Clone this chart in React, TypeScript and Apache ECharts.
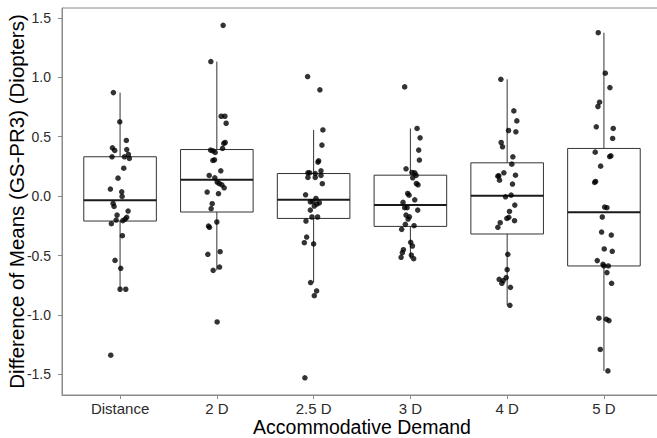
import React, { useEffect, useRef } from "react";
import * as echarts from "echarts";

const categories = ["Distance", "2 D", "2.5 D", "3 D", "4 D", "5 D"];
const yTicks = [-1.5, -1.0, -0.5, 0.0, 0.5, 1.0, 1.5];

// box statistics
const boxLow = [-0.784, -0.625, -0.728, -0.527, -0.919, -1.471];
const boxQ1 = [-0.21, -0.134, -0.188, -0.255, -0.319, -0.588];
const boxMedian = [-0.034, 0.137, -0.031, -0.076, 0.003, -0.137];
const boxQ3 = [0.331, 0.392, 0.19, 0.176, 0.28, 0.401];
const boxHigh = [0.871, 1.132, 0.557, 0.569, 0.983, 1.375];

// jittered points: [horizontal jitter (category units), value]
const distancePts = [
  [-0.069, 0.871], [-0.003, 0.625], [0.065, 0.468], [-0.079, 0.406], [-0.055, 0.384],
  [0.069, 0.392], [-0.083, 0.331], [0.045, 0.331], [0.086, 0.35], [0.096, 0.317],
  [0.038, 0.235], [-0.021, 0.151], [-0.1, 0.059], [0.017, 0.036], [0.021, -0.003],
  [-0.072, -0.062], [-0.062, -0.087], [-0.031, -0.16], [0.083, -0.126], [0.069, -0.179],
  [0.052, -0.193], [0.028, -0.207], [-0.09, -0.232], [-0.041, -0.202], [0.024, -0.333],
  [-0.052, -0.541], [0.007, -0.608], [0.0, -0.784], [0.059, -0.784], [-0.096, -1.339],
];
const d2Pts = [
  [0.065, 1.437], [-0.062, 1.132], [0.045, 0.672], [0.083, 0.672], [0.096, 0.613],
  [0.086, 0.451], [0.072, 0.443], [0.059, 0.401], [-0.065, 0.387], [-0.041, 0.381],
  [-0.017, 0.367], [-0.024, 0.305], [-0.041, 0.3], [0.041, 0.213], [-0.079, 0.174],
  [-0.021, 0.154], [0.003, 0.118], [0.024, 0.106], [0.052, 0.095], [0.076, 0.07],
  [-0.1, 0.034], [0.017, 0.02], [-0.048, -0.064], [-0.059, -0.106], [0.0, -0.218],
  [-0.086, -0.252], [-0.076, -0.263], [0.034, -0.468], [-0.093, -0.49], [0.028, -0.597],
  [-0.038, -0.625], [0.003, -1.059],
];
const d25Pts = [
  [-0.062, 1.006], [0.065, 0.894], [0.096, 0.557], [0.086, 0.429], [0.052, 0.297],
  [0.045, 0.286], [0.076, 0.213], [-0.059, 0.196], [-0.041, 0.196], [0.017, 0.19],
  [-0.059, 0.157], [0.017, 0.157], [0.076, 0.174], [0.09, 0.104], [-0.083, 0.011],
  [0.024, -0.02], [-0.034, -0.048], [-0.007, -0.048], [0.059, -0.056], [0.034, -0.067],
  [0.007, -0.084], [-0.034, -0.118], [-0.017, -0.176], [0.041, -0.176], [-0.079, -0.21],
  [-0.072, -0.345], [-0.096, -0.392], [0.0, -0.403], [-0.031, -0.728], [0.031, -0.798],
  [0.007, -0.838], [-0.09, -1.529],
];
const d3Pts = [
  [-0.059, 0.919], [0.069, 0.569], [0.1, 0.49], [0.086, 0.387], [0.093, 0.303],
  [-0.045, 0.23], [0.017, 0.199], [0.045, 0.196], [0.059, 0.174], [0.024, 0.154],
  [0.062, 0.106], [0.079, 0.095], [-0.028, 0.022], [-0.014, 0.008], [0.045, -0.031],
  [-0.076, -0.053], [-0.059, -0.098], [-0.034, -0.098], [0.076, -0.118], [-0.045, -0.16],
  [-0.01, -0.174], [-0.024, -0.193], [-0.052, -0.238], [0.038, -0.249], [-0.09, -0.28],
  [0.003, -0.389], [0.021, -0.42], [-0.072, -0.451], [-0.083, -0.476], [-0.096, -0.515],
  [0.01, -0.496], [0.034, -0.527],
];
const d4Pts = [
  [-0.065, 0.983], [0.069, 0.717], [0.1, 0.633], [0.014, 0.552], [0.09, 0.541],
  [-0.062, 0.451], [-0.048, 0.415], [0.059, 0.331], [0.048, 0.269], [-0.034, 0.196],
  [-0.086, 0.171], [-0.096, 0.168], [-0.079, 0.134], [0.086, 0.176], [0.055, 0.101],
  [0.041, 0.008], [-0.017, -0.006], [0.079, -0.076], [0.024, -0.129], [0.017, -0.179],
  [-0.003, -0.188], [0.076, -0.207], [-0.072, -0.224], [-0.096, -0.263], [0.007, -0.49],
  [0.0, -0.619], [-0.01, -0.686], [-0.083, -0.7], [-0.041, -0.711], [-0.055, -0.734],
  [0.034, -0.768], [0.028, -0.919],
];
const d5Pts = [
  [-0.059, 1.375], [0.014, 1.034], [0.062, 0.913], [-0.045, 0.79], [-0.062, 0.754],
  [-0.079, 0.583], [0.096, 0.569], [0.09, 0.485], [-0.09, 0.37], [0.059, 0.333],
  [0.072, 0.339], [-0.034, 0.252], [-0.096, 0.115], [-0.086, 0.123], [0.007, -0.092],
  [0.031, -0.098], [-0.017, -0.176], [-0.024, -0.303], [0.076, -0.328], [0.003, -0.445],
  [0.086, -0.465], [-0.069, -0.543], [-0.01, -0.574], [0.0, -0.588], [0.045, -0.588],
  [0.031, -0.644], [0.079, -0.734], [-0.052, -1.028], [0.024, -1.036], [0.052, -1.048],
  [-0.038, -1.291], [0.041, -1.471],
];
const groupPoints = [distancePts, d2Pts, d25Pts, d3Pts, d4Pts, d5Pts];

const FONT = "'Liberation Sans', Arial, sans-serif";

export default function App() {
  const ref = useRef<HTMLDivElement>(null);
  useEffect(() => {
    document.body.style.margin = "0";
    if (!ref.current) return;
    const chart = echarts.init(ref.current, null, { renderer: "svg" });

    const boxData = categories.map((_, i) => [
      i + 1,
      boxLow[i],
      boxQ1[i],
      boxMedian[i],
      boxQ3[i],
      boxHigh[i],
    ]);
    const scatterData: number[][] = [];
    groupPoints.forEach((pts, i) => {
      pts.forEach(([j, v]) => scatterData.push([i + 1 + j, v]));
    });

    chart.setOption({
      animation: false,
      backgroundColor: "#ffffff",
      grid: {
        left: 62,
        top: 8,
        right: -5,
        bottom: 43,
        containLabel: false,
        outerBoundsMode: "none",
        show: true,
        borderColor: "#8a8a8a",
        borderWidth: 1,
        backgroundColor: "transparent",
      },
      xAxis: {
        type: "value",
        min: 0.4,
        max: 6.6,
        name: "Accommodative Demand",
        nameLocation: "middle",
        nameGap: 22,
        nameMoveOverlap: false,
        nameTextStyle: { fontFamily: FONT, fontSize: 19.5, color: "#000", lineHeight: 20 },
        axisLine: { show: true, onZero: false, lineStyle: { color: "#8a8a8a", width: 1 } },
        axisTick: {
          show: true,
          length: 4,
          customValues: [1, 2, 3, 4, 5, 6],
          lineStyle: { color: "#8a8a8a" },
        },
        axisLabel: {
          customValues: [1, 2, 3, 4, 5, 6],
          formatter: (v: number) => categories[Math.round(v) - 1] ?? "",
          fontFamily: FONT,
          fontSize: 15,
          lineHeight: 15,
          color: "#2b2b2b",
          margin: 6,
        },
        splitLine: { show: false },
      },
      yAxis: {
        type: "value",
        min: -1.674,
        max: 1.583,
        name: "Difference of Means (GS-PR3) (Diopters)",
        nameLocation: "middle",
        nameGap: 35,
        nameMoveOverlap: false,
        nameTextStyle: { fontFamily: FONT, fontSize: 20.5, color: "#000", lineHeight: 21 },
        axisLine: { show: true, onZero: false, lineStyle: { color: "#8a8a8a", width: 1 } },
        axisTick: {
          show: true,
          length: 4,
          customValues: yTicks,
          lineStyle: { color: "#8a8a8a" },
        },
        axisLabel: {
          customValues: yTicks,
          formatter: (v: number) => v.toFixed(1),
          fontFamily: FONT,
          fontSize: 14,
          color: "#2b2b2b",
          margin: 11,
        },
        splitLine: { show: false },
      },
      series: [
        {
          type: "custom",
          data: boxData,
          encode: { x: 0, y: [1, 2, 3, 4, 5] },
          z: 2,
          renderItem: (params: any, api: any) => {
            const x = api.value(0);
            const pLow = api.coord([x, api.value(1)]);
            const pQ1 = api.coord([x, api.value(2)]);
            const pMed = api.coord([x, api.value(3)]);
            const pQ3 = api.coord([x, api.value(4)]);
            const pHigh = api.coord([x, api.value(5)]);
            const half = api.size([0.75, 0])[0] / 2;
            const cx = pMed[0];
            const stroke = "#333333";
            return {
              type: "group",
              children: [
                {
                  type: "line",
                  shape: { x1: cx, y1: pQ3[1], x2: cx, y2: pHigh[1] },
                  style: { stroke, lineWidth: 1 },
                },
                {
                  type: "line",
                  shape: { x1: cx, y1: pQ1[1], x2: cx, y2: pLow[1] },
                  style: { stroke, lineWidth: 1 },
                },
                {
                  type: "rect",
                  shape: {
                    x: cx - half,
                    y: pQ3[1],
                    width: half * 2,
                    height: pQ1[1] - pQ3[1],
                  },
                  style: { fill: "#ffffff", stroke, lineWidth: 1 },
                },
                {
                  type: "line",
                  shape: { x1: cx - half, y1: pMed[1], x2: cx + half, y2: pMed[1] },
                  style: { stroke: "#1a1a1a", lineWidth: 2 },
                },
              ],
            };
          },
        },
        {
          type: "scatter",
          data: scatterData,
          symbol: "circle",
          symbolSize: 5.5,
          z: 5,
          itemStyle: { color: "#000000" },
        },
      ],
    });
    return () => chart.dispose();
  }, []);
  return <div ref={ref} style={{ width: 657, height: 438 }} />;
}
